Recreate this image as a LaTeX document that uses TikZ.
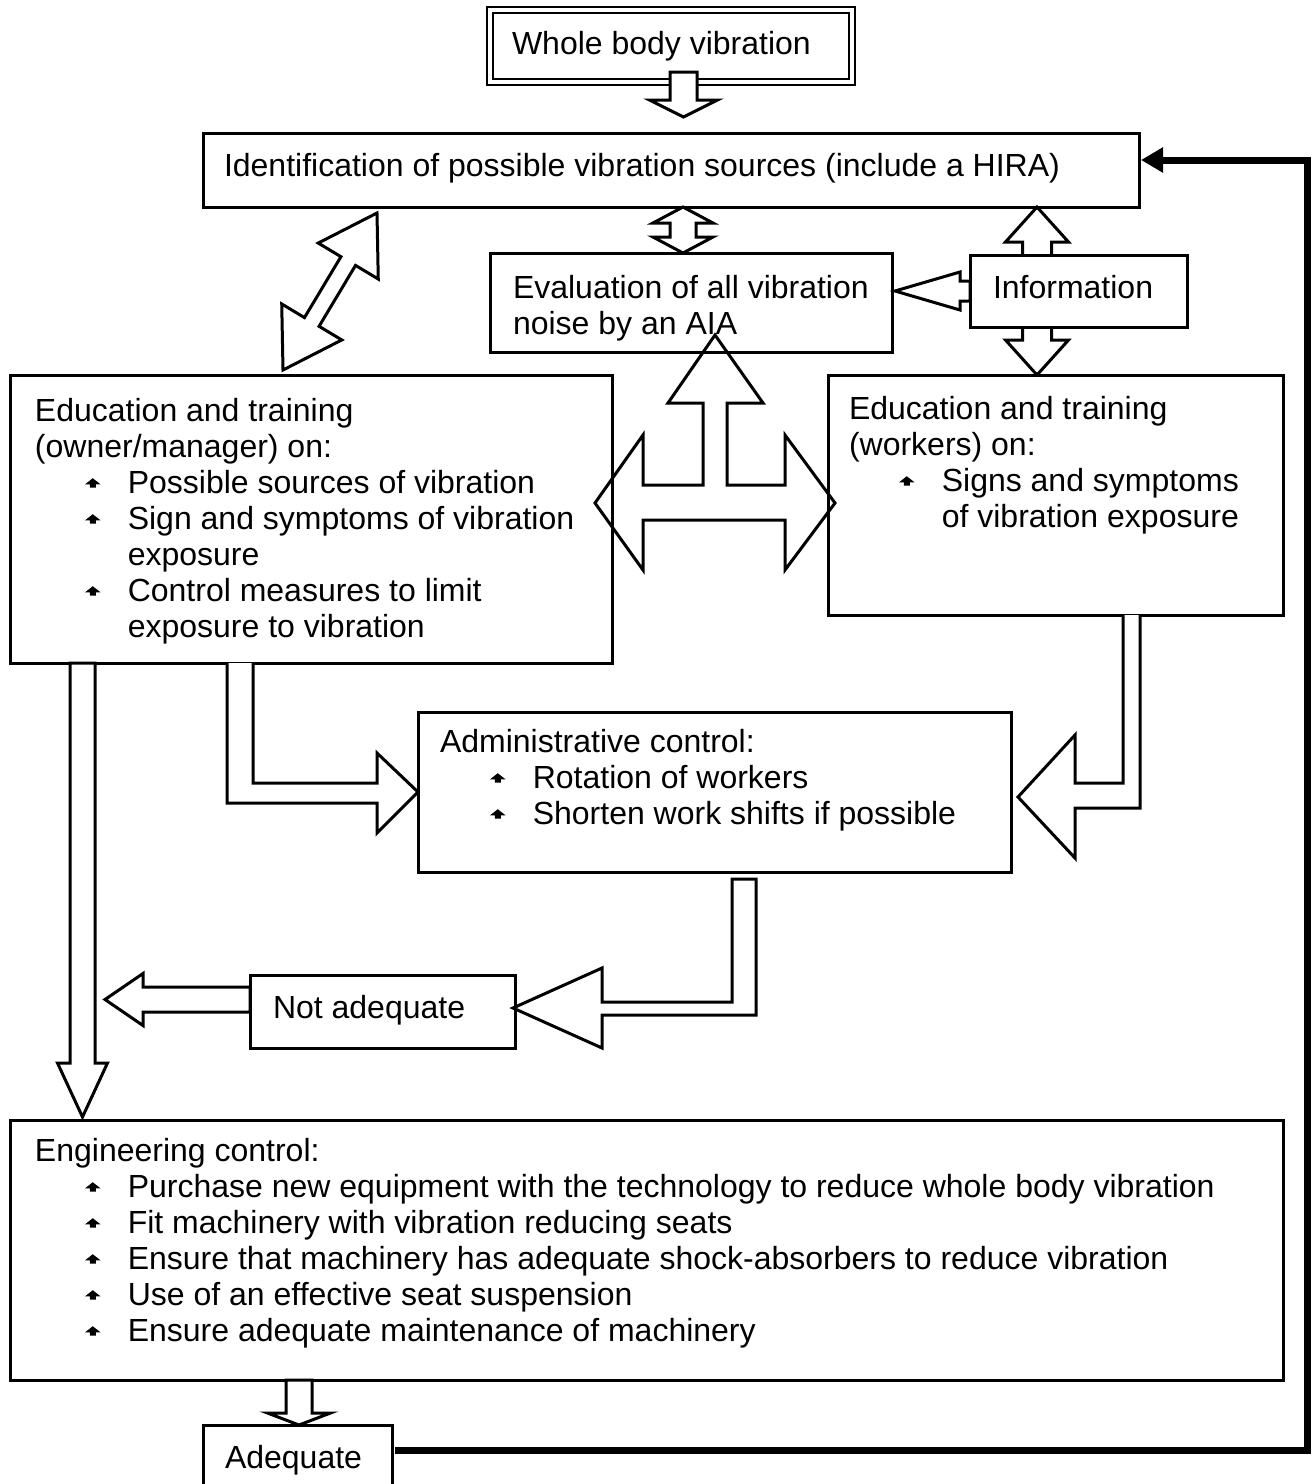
\documentclass[tikz,border=0pt]{standalone}
\usepackage{fontspec}
\setmainfont{Liberation Sans}
\usetikzlibrary{calc,arrows.meta}
\newlength\lpad
\newcommand\bul{\tikz[baseline=0pt,x=1pt,y=1pt]\fill[black] (-3.9,4.3)--(0,7.4)--(3.9,4.3)--(1.5,4.3)--(1.5,2.7)--(-1.5,2.7)--(-1.5,4.3)--cycle;}
\newcommand\Ltxt[1]{\hspace*{\lpad}#1\strut}
\newcommand\Lbul[1]{\hspace*{\lpad}\hspace*{25pt}\makebox[7.8pt]{\bul}\hspace*{13.6pt}#1\strut}
\newcommand\Lcont[1]{\hspace*{\lpad}\hspace*{46.4pt}#1\strut}
\newcommand\btext[5]{\parbox[c][#2][t]{#1}{\setlength\lpad{#4}\vspace*{#3}#5}}
% single block arrow: tail, tip, shaft half width, head half width, head length
\newcommand\sarrow[6][barrow]{%
  \coordinate (ba-t) at (#2);
  \coordinate (ba-p) at (#3);
  \coordinate (ba-h) at ($(ba-p)!#6!(ba-t)$);
  \draw[#1] ($(ba-t)!#4!90:(ba-p)$) -- ($(ba-h)!#4!-90:(ba-t)$) -- ($(ba-h)!#5!-90:(ba-t)$) -- (ba-p)
    -- ($(ba-h)!#5!90:(ba-t)$) -- ($(ba-h)!#4!90:(ba-t)$) -- ($(ba-t)!#4!-90:(ba-p)$) -- cycle;}
% double block arrow
\newcommand\darrow[6][barrow]{%
  \coordinate (ba-t) at (#2);
  \coordinate (ba-p) at (#3);
  \coordinate (ba-h) at ($(ba-p)!#6!(ba-t)$);
  \coordinate (ba-g) at ($(ba-t)!#6!(ba-p)$);
  \draw[#1] (ba-t) -- ($(ba-g)!#5!90:(ba-p)$) -- ($(ba-g)!#4!90:(ba-p)$) -- ($(ba-h)!#4!-90:(ba-t)$)
    -- ($(ba-h)!#5!-90:(ba-t)$) -- (ba-p) -- ($(ba-h)!#5!90:(ba-t)$) -- ($(ba-h)!#4!90:(ba-t)$)
    -- ($(ba-g)!#4!-90:(ba-p)$) -- ($(ba-g)!#5!-90:(ba-p)$) -- cycle;}
\begin{document}
\begin{tikzpicture}[x=0.5pt,y=-0.5pt,
  box/.style={draw,line width=1.5pt,rectangle,inner sep=0pt,outer sep=0pt,anchor=north west,fill=white,font=\fontsize{16pt}{18pt}\selectfont},
  barrow/.style={draw,fill=white,line width=1.5pt,line join=miter},
  oarrow/.style={draw,line width=1.5pt,line join=miter},
  feedback/.style={draw,line width=3.5pt,line join=miter,-{Triangle[length=11pt,width=12pt]}}]
\useasboundingbox (0,0) rectangle (1316,1484);

\node[box,double,double distance=2pt,line width=1pt] (wbv) at (490,10)
  {\btext{181pt}{36pt}{9.4pt}{11pt}{\Ltxt{Whole body vibration}}};
\node[box] (ident) at (203,133)
  {\btext{468pt}{37pt}{8.9pt}{10.5pt}{\Ltxt{Identification of possible vibration sources (include a HIRA)}}};
\node[box] (eval) at (490,253)
  {\btext{201pt}{49.5pt}{9.9pt}{11.5pt}{\Ltxt{Evaluation of all vibration}\\\Ltxt{noise by an AIA}}};
\node[box] (edu1) at (10,375)
  {\btext{301pt}{144pt}{10.4pt}{12.5pt}{%
    \Ltxt{Education and training}\\
    \Ltxt{(owner/manager) on:}\\
    \Lbul{Possible sources of vibration}\\
    \Lbul{Sign and symptoms of vibration}\\
    \Lcont{exposure}\\
    \Lbul{Control measures to limit}\\
    \Lcont{exposure to vibration}}};
\node[box] (edu2) at (828,375)
  {\btext{227.5pt}{120pt}{9.4pt}{10.5pt}{%
    \Ltxt{Education and training}\\
    \Ltxt{(workers) on:}\\
    \Lbul{Signs and symptoms}\\
    \Lcont{of vibration exposure}}};
\node[box] (admin) at (418,712)
  {\btext{296.5pt}{80pt}{7.4pt}{11pt}{%
    \Ltxt{Administrative control:}\\
    \Lbul{Rotation of workers}\\
    \Lbul{Shorten work shifts if possible}}};
\node[box] (notadq) at (250,975)
  {\btext{132.5pt}{36.5pt}{8.9pt}{11.5pt}{\Ltxt{Not adequate}}};
\node[box] (eng) at (10,1120)
  {\btext{636.5pt}{130pt}{7.9pt}{12.5pt}{%
    \Ltxt{Engineering control:}\\
    \Lbul{Purchase new equipment with the technology to reduce whole body vibration}\\
    \Lbul{Fit machinery with vibration reducing seats}\\
    \Lbul{Ensure that machinery has adequate shock-absorbers to reduce vibration}\\
    \Lbul{Use of an effective seat suspension}\\
    \Lbul{Ensure adequate maintenance of machinery}}};
\node[box] (adq) at (203,1425)
  {\btext{94.5pt}{32.5pt}{8.9pt}{11pt}{\Ltxt{Adequate}}};

% double arrow passing behind the Information box
\darrow{1037,0 |- ident.south}{1037,0 |- edu2.north}{7.25pt}{15.75pt}{17.5pt}
\node[box] (info) at (970,255)
  {\btext{108.5pt}{36pt}{8.9pt}{11.5pt}{\Ltxt{Information}}};
\sarrow{info.west}{$(eval.east |- info.west)+(3,0)$}{5pt}{9.5pt}{32.5pt}

% top arrows
\sarrow{$(683.5,0 |- wbv.south)+(0,-10)$}{$(683.5,0 |- ident.north)+(0,-16)$}{6.75pt}{17pt}{8.5pt}
\darrow{683,0 |- ident.south}{683,0 |- eval.north}{6.5pt}{15pt}{8pt}
\darrow{283,370}{377,213}{4.25pt}{17.5pt}{28pt}

% four-way arrow
\draw[oarrow] (595,503) -- (643,435) -- (643,485) -- (703,485) -- (703,403) -- (668,403)
  -- (715,335) -- (763,403) -- (727,403) -- (727,485) -- (785,485) -- (785,435)
  -- (835,503) -- (785,570) -- (785,520) -- (643,520) -- (643,570) -- cycle;

% long down arrow to engineering control
\sarrow{82.5,0 |- edu1.south}{$(82.5,0 |- eng.north)+(0,-3)$}{6.25pt}{12.5pt}{27pt}

% elbow arrows into administrative control
\draw[barrow] (227,0 |- edu1.south) -- (227,803) -- (377,803) -- (377,833) -- (admin.west)
  -- (377,753) -- (377,783) -- (253,783) -- (253,0 |- edu1.south);
\draw[barrow] (1123,0 |- edu2.south) -- (1123,783) -- (1075,783) -- (1075,735)
  -- ($(admin.east)+(7,5)$) -- (1075,858) -- (1075,808) -- (1140,808) -- (1140,0 |- edu2.south);

% admin -> not adequate
\draw[barrow] ($(732,0 |- admin.south)+(0,7)$) -- ($(756,0 |- admin.south)+(0,7)$) -- (756,1015)
  -- (602,1015) -- (602,1048) -- ($(notadq.east)+(-2,-3.5)$) -- (602,968) -- (602,1002)
  -- (732,1002) -- cycle;

% not adequate -> left
\coordinate (naend) at (105,999.5);
\sarrow{$(notadq.west)+(0,-12)$}{naend}{6.25pt}{13pt}{19pt}

% engineering -> adequate
\sarrow{299,0 |- eng.south}{299,0 |- adq.north}{6.5pt}{15.75pt}{6pt}

% feedback line
\draw[feedback] ($(adq.east)+(3,-7.5)$) -| (1307,160) -- ($(ident.east)+(2,-10)$);
\end{tikzpicture}
\end{document}
